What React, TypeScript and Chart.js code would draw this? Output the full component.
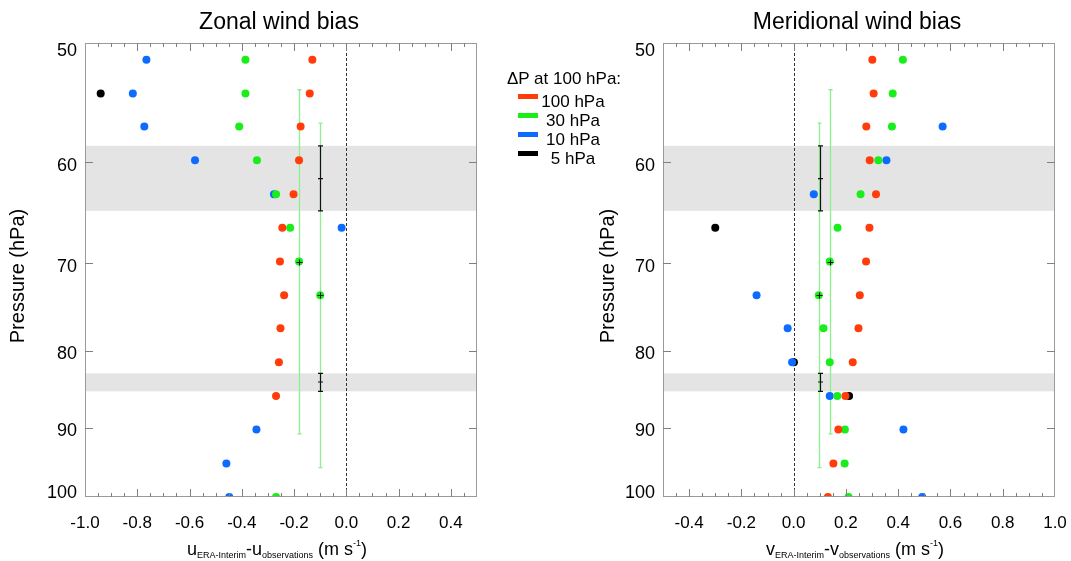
import React, { useEffect, useRef } from 'react';
import { Chart, registerables } from 'chart.js';

Chart.register(...registerables);

const FONT = '"Liberation Sans", Arial, Helvetica, sans-serif';

// Pressure levels (hPa) of the data rows
const PRESSURE_LEVELS = [51.3, 54.0, 56.8, 59.8, 63.0, 66.3, 69.8, 73.5, 77.3, 81.4, 85.7, 90.2, 95.0, 100];
const Y_TICKS = [50, 60, 70, 80, 90, 100];

const ZONAL_X_RANGE = [-1.0, 0.5];
const MERID_X_RANGE = [-0.5, 1.0];
const ZONAL_X_TICKS = [-1.0, -0.8, -0.6, -0.4, -0.2, 0.0, 0.2, 0.4];
const MERID_X_TICKS = [-0.4, -0.2, 0.0, 0.2, 0.4, 0.6, 0.8, 1.0];

const SERIES_LABELS = ['100 hPa', '30 hPa', '10 hPa', '5 hPa'];
const SERIES_COLORS = ['#ff3c0a', '#1aee1a', '#0d6bff', '#000000'];

// Zonal wind bias (m/s), one value per pressure level (null = no point)
const ZONAL_100 = [-0.13, -0.14, -0.175, -0.181, -0.202, -0.245, -0.254, -0.238, -0.252, -0.258, -0.269, null, null, null];
const ZONAL_30 = [-0.386, -0.386, -0.41, -0.342, -0.269, -0.215, -0.181, -0.1, null, null, null, null, null, -0.269];
const ZONAL_10 = [-0.765, -0.817, -0.773, -0.579, -0.277, -0.018, null, null, null, null, null, -0.344, -0.459, -0.448];
const ZONAL_5 = [null, -0.94, null, null, null, null, null, null, null, null, null, null, null, null];

// Meridional wind bias (m/s)
const MERID_100 = [0.301, 0.306, 0.278, 0.291, 0.315, 0.29, 0.277, 0.253, 0.248, 0.226, 0.198, 0.171, 0.152, 0.131];
const MERID_30 = [0.418, 0.379, 0.376, 0.324, 0.256, 0.168, 0.138, 0.096, 0.114, 0.138, 0.167, 0.196, 0.195, 0.21];
const MERID_10 = [null, null, 0.57, 0.355, 0.077, null, null, -0.142, -0.023, -0.006, 0.138, 0.42, null, 0.492];
const MERID_5 = [null, null, null, null, null, -0.3, null, null, null, 0.001, 0.212, null, null, null];

// Shaded pressure bands and black range bars
const SHADED_LO = [58.5, 82.8];
const SHADED_HI = [64.6, 85.1];
const BLACK_BAR_CENTER = [61.5, 83.9];
const ZONAL_BLACK_BAR_X = [-0.1, -0.1];
const MERID_BLACK_BAR_X = [0.1, 0.1];

// Green (30 hPa) vertical range bars
const GREEN_BAR_CENTER = [69.8, 73.5];
const GREEN_BAR_LO = [53.7, 56.5];
const GREEN_BAR_HI = [90.8, 95.6];
const ZONAL_GREEN_BAR_X = [-0.181, -0.1];
const MERID_GREEN_BAR_X = [0.138, 0.096];

type PanelCfg = {
  title: string;
  varName: string;
  xRange: number[];
  xTicks: number[];
  series: (number | null)[][];
  greenX: number[];
  blackX: number[];
  yTitleX: number;
  padding: { left: number; right: number; top: number; bottom: number };
};

function makeDecorPlugin(cfg: PanelCfg) {
  return {
    id: 'decor',
    beforeDatasetsDraw(chart: any) {
      const { ctx, chartArea: a, scales } = chart;
      const x = scales.x;
      const y = scales.y;
      ctx.save();
      // shaded bands
      ctx.fillStyle = '#e4e4e4';
      for (let i = 0; i < SHADED_LO.length; i++) {
        const y1 = y.getPixelForValue(SHADED_LO[i]);
        const y2 = y.getPixelForValue(SHADED_HI[i]);
        ctx.fillRect(a.left, y1, a.right - a.left, y2 - y1);
      }
      // zero line
      const x0 = Math.round(x.getPixelForValue(0)) + 0.5;
      ctx.strokeStyle = '#333';
      ctx.lineWidth = 1;
      ctx.setLineDash([3, 2]);
      ctx.beginPath();
      ctx.moveTo(x0, a.top);
      ctx.lineTo(x0, a.bottom);
      ctx.stroke();
      ctx.setLineDash([]);
      // green bars
      ctx.strokeStyle = '#8cf08c';
      ctx.lineWidth = 1.3;
      for (let i = 0; i < cfg.greenX.length; i++) {
        const px = Math.round(x.getPixelForValue(cfg.greenX[i])) + 0.5;
        const t = y.getPixelForValue(GREEN_BAR_LO[i]);
        const b = y.getPixelForValue(GREEN_BAR_HI[i]);
        ctx.beginPath();
        ctx.moveTo(px, t);
        ctx.lineTo(px, b);
        ctx.moveTo(px - 2, t);
        ctx.lineTo(px + 2, t);
        ctx.moveTo(px - 2, b);
        ctx.lineTo(px + 2, b);
        ctx.stroke();
      }
      // black bars
      ctx.strokeStyle = '#111';
      ctx.lineWidth = 1.2;
      for (let i = 0; i < cfg.blackX.length; i++) {
        const px = Math.round(x.getPixelForValue(cfg.blackX[i])) + 0.5;
        const t = y.getPixelForValue(SHADED_LO[i]);
        const b = y.getPixelForValue(SHADED_HI[i]);
        const c = y.getPixelForValue(BLACK_BAR_CENTER[i]);
        ctx.beginPath();
        ctx.moveTo(px, t);
        ctx.lineTo(px, b);
        ctx.moveTo(px - 2.5, t);
        ctx.lineTo(px + 2.5, t);
        ctx.moveTo(px - 2.5, b);
        ctx.lineTo(px + 2.5, b);
        ctx.moveTo(px - 2.5, c);
        ctx.lineTo(px + 2.5, c);
        ctx.stroke();
      }
      ctx.restore();
    },
    afterDatasetsDraw(chart: any) {
      const { ctx, scales } = chart;
      const x = scales.x;
      const y = scales.y;
      ctx.save();
      ctx.strokeStyle = '#111';
      ctx.lineWidth = 1;
      for (let i = 0; i < cfg.greenX.length; i++) {
        const px = Math.round(x.getPixelForValue(cfg.greenX[i])) + 0.5;
        const py = Math.round(y.getPixelForValue(GREEN_BAR_CENTER[i])) + 0.5;
        ctx.beginPath();
        ctx.moveTo(px - 3, py);
        ctx.lineTo(px + 3, py);
        ctx.moveTo(px, py - 3);
        ctx.lineTo(px, py + 3);
        ctx.stroke();
      }
      ctx.restore();
    },
    afterDraw(chart: any) {
      const { ctx, chartArea: a, scales } = chart;
      const x = scales.x;
      const y = scales.y;
      ctx.save();
      // frame
      ctx.strokeStyle = '#9a9a9a';
      ctx.lineWidth = 1;
      ctx.strokeRect(a.left + 0.5, a.top + 0.5, a.right - a.left - 1, a.bottom - a.top - 1);
      // x ticks (inward, top & bottom)
      ctx.strokeStyle = '#808080';
      const [xmin, xmax] = cfg.xRange;
      const n = Math.round((xmax - xmin) / 0.05);
      ctx.beginPath();
      for (let i = 1; i < n; i++) {
        const v = xmin + i * 0.05;
        const major = Math.abs(v / 0.2 - Math.round(v / 0.2)) < 1e-6;
        const len = major ? 8 : 4;
        const px = Math.round(x.getPixelForValue(v)) + 0.5;
        ctx.moveTo(px, a.bottom);
        ctx.lineTo(px, a.bottom - len);
        ctx.moveTo(px, a.top);
        ctx.lineTo(px, a.top + len);
      }
      // y ticks (inward, left & right)
      for (const t of Y_TICKS) {
        if (t === 50 || t === 100) continue;
        const py = Math.round(y.getPixelForValue(t)) + 0.5;
        ctx.moveTo(a.left, py);
        ctx.lineTo(a.left + 8, py);
        ctx.moveTo(a.right, py);
        ctx.lineTo(a.right - 8, py);
      }
      ctx.stroke();

      ctx.fillStyle = '#000';
      // x tick labels
      ctx.font = `17px ${FONT}`;
      ctx.textAlign = 'center';
      ctx.textBaseline = 'alphabetic';
      for (const t of cfg.xTicks) {
        ctx.fillText(t.toFixed(1), x.getPixelForValue(t), a.bottom + 31);
      }
      // y tick labels
      ctx.font = `18px ${FONT}`;
      ctx.textAlign = 'right';
      for (const t of Y_TICKS) {
        const py = Math.min(Math.max(y.getPixelForValue(t) + 2, a.top + 7), a.bottom - 5);
        ctx.fillText(String(t), a.left - 8, py + 6.4);
      }
      // title
      const cx = (a.left + a.right) / 2;
      ctx.font = `23px ${FONT}`;
      ctx.textAlign = 'center';
      ctx.fillText(cfg.title, cx - 2, 29);
      // y title
      ctx.save();
      ctx.font = `20px ${FONT}`;
      ctx.translate(cfg.yTitleX, (a.top + a.bottom) / 2 + 6);
      ctx.rotate(-Math.PI / 2);
      ctx.textAlign = 'center';
      ctx.fillText('Pressure (hPa)', 0, 0);
      ctx.restore();
      // x title with sub/superscripts
      const base = a.bottom + 58;
      const pieces: [string, number, number][] = [
        [cfg.varName, 18, 0],
        ['ERA-Interim', 9, 2.5],
        ['-' + cfg.varName, 18, 0],
        ['observations', 9, 2.5],
        [' (m s', 18, 0],
        ['-1', 9, -9],
        [')', 18, 0],
      ];
      ctx.textAlign = 'left';
      let total = 0;
      for (const [s, f] of pieces) {
        ctx.font = `${f}px ${FONT}`;
        total += ctx.measureText(s).width;
      }
      let px = cx - 4 - total / 2;
      for (const [s, f, dy] of pieces) {
        ctx.font = `${f}px ${FONT}`;
        ctx.fillText(s, px, base + dy);
        px += ctx.measureText(s).width;
      }
      ctx.restore();
    },
  };
}

function buildChart(canvas: HTMLCanvasElement, cfg: PanelCfg) {
  const datasets = cfg.series.map((vals, si) => ({
    label: SERIES_LABELS[si],
    data: PRESSURE_LEVELS.map((p, i) => (vals[i] === null ? null : { x: vals[i] as number, y: p })).filter(
      (d) => d !== null
    ),
    backgroundColor: SERIES_COLORS[si],
    pointBackgroundColor: SERIES_COLORS[si],
    pointBorderWidth: 0,
    pointRadius: 4,
    pointHoverRadius: 4,
    showLine: false,
    clip: 0,
  }));
  return new Chart(canvas, {
    type: 'scatter',
    data: { datasets } as any,
    options: {
      animation: false,
      responsive: false,
      maintainAspectRatio: false,
      events: [],
      layout: { padding: cfg.padding },
      plugins: {
        legend: { display: false },
        tooltip: { enabled: false },
        title: { display: false },
      },
      scales: {
        x: { type: 'linear', min: cfg.xRange[0], max: cfg.xRange[1], display: false },
        y: { type: 'logarithmic', min: 50, max: 100, reverse: true, display: false },
      },
    } as any,
    plugins: [makeDecorPlugin(cfg)],
  });
}

export default function App() {
  const leftRef = useRef<HTMLCanvasElement>(null);
  const rightRef = useRef<HTMLCanvasElement>(null);

  useEffect(() => {
    const c1 = buildChart(leftRef.current!, {
      title: 'Zonal wind bias',
      varName: 'u',
      xRange: ZONAL_X_RANGE,
      xTicks: ZONAL_X_TICKS,
      series: [ZONAL_100, ZONAL_30, ZONAL_10, ZONAL_5],
      greenX: ZONAL_GREEN_BAR_X,
      blackX: ZONAL_BLACK_BAR_X,
      yTitleX: 24,
      padding: { left: 85, right: 23, top: 43, bottom: 64 },
    });
    const c2 = buildChart(rightRef.current!, {
      title: 'Meridional wind bias',
      varName: 'v',
      xRange: MERID_X_RANGE,
      xTicks: MERID_X_TICKS,
      series: [MERID_100, MERID_30, MERID_10, MERID_5],
      greenX: MERID_GREEN_BAR_X,
      blackX: MERID_BLACK_BAR_X,
      yTitleX: 43,
      padding: { left: 92, right: 16, top: 43, bottom: 64 },
    });
    return () => {
      c1.destroy();
      c2.destroy();
    };
  }, []);

  const legendBaselines = [107, 126, 145, 164];
  const txt = (extra: React.CSSProperties): React.CSSProperties => ({
    position: 'absolute',
    fontFamily: FONT,
    fontSize: 17,
    lineHeight: '17px',
    whiteSpace: 'nowrap',
    color: '#000',
    ...extra,
  });

  return (
    <div style={{ position: 'absolute', left: 0, top: 0, width: 1071, height: 561, background: '#fff', overflow: 'hidden' }}>
      <canvas ref={leftRef} width={500} height={561} style={{ position: 'absolute', left: 0, top: 0 }} />
      <canvas ref={rightRef} width={500} height={561} style={{ position: 'absolute', left: 571, top: 0 }} />
      <div style={txt({ left: 507, top: 84 - 14.4 })}>ΔP at 100 hPa:</div>
      {SERIES_LABELS.map((lab, i) => (
        <React.Fragment key={lab}>
          <div
            style={{
              position: 'absolute',
              left: 518,
              top: legendBaselines[i] - 13.5,
              width: 20,
              height: 5,
              background: SERIES_COLORS[i],
            }}
          />
          <div style={txt({ left: 573, top: legendBaselines[i] - 14.4, transform: 'translateX(-50%)' })}>{lab}</div>
        </React.Fragment>
      ))}
    </div>
  );
}
